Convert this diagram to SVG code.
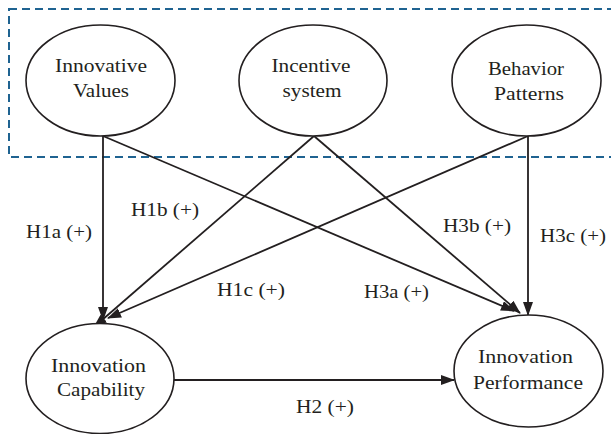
<svg xmlns="http://www.w3.org/2000/svg" width="611" height="434" viewBox="0 0 611 434">
<defs>
<style>
.node ellipse{fill:#fff;stroke:#231f20;stroke-width:1.6}
.t{font-family:"Times New Roman","Liberation Serif","Noto Serif","DejaVu Serif",serif;font-size:19.5px;fill:#231f20;text-anchor:middle}
.conn line{stroke:#231f20;stroke-width:1.8;fill:none}
</style>
<marker id="ah" markerWidth="14" markerHeight="10" refX="13" refY="5" orient="auto" markerUnits="userSpaceOnUse">
<path d="M0,0 L14,5 L0,10 Z" fill="#231f20"/>
</marker>
</defs>
<rect width="611" height="434" fill="#fff"/>
<rect id="group-box" x="9" y="9" width="620" height="148" fill="none" stroke="#1f6391" stroke-width="2" stroke-dasharray="8,5"/>
<g class="conn">
<line x1="103" y1="136" x2="103" y2="320" marker-end="url(#ah)"/>
<line x1="314" y1="136" x2="94" y2="327" marker-end="url(#ah)"/>
<line x1="528" y1="136" x2="108" y2="318" marker-end="url(#ah)"/>
<line x1="103" y1="136" x2="514" y2="311" marker-end="url(#ah)"/>
<line x1="314" y1="136" x2="520" y2="313" marker-end="url(#ah)"/>
<line x1="528" y1="136" x2="528" y2="315" marker-end="url(#ah)"/>
<line x1="174" y1="380" x2="454" y2="380" marker-end="url(#ah)"/>
</g>
<g id="innovative-values" class="node">
<ellipse cx="100.5" cy="80.5" rx="74.5" ry="55.5"/>
<text class="t" x="101" y="72" textLength="92" lengthAdjust="spacingAndGlyphs">Innovative</text>
<text class="t" x="101" y="97" textLength="56" lengthAdjust="spacingAndGlyphs">Values</text>
</g>
<g id="incentive-system" class="node">
<ellipse cx="313" cy="80.5" rx="74" ry="55.5"/>
<text class="t" x="311" y="72" textLength="79" lengthAdjust="spacingAndGlyphs">Incentive</text>
<text class="t" x="312" y="97" textLength="59" lengthAdjust="spacingAndGlyphs">system</text>
</g>
<g id="behavior-patterns" class="node">
<ellipse cx="526.5" cy="80.5" rx="74.5" ry="55.5"/>
<text class="t" x="526" y="75" textLength="76" lengthAdjust="spacingAndGlyphs">Behavior</text>
<text class="t" x="529" y="100" textLength="70" lengthAdjust="spacingAndGlyphs">Patterns</text>
</g>
<g id="innovation-capability" class="node">
<ellipse cx="100" cy="378.5" rx="74" ry="55"/>
<text class="t" x="98.5" y="372" textLength="95" lengthAdjust="spacingAndGlyphs">Innovation</text>
<text class="t" x="101" y="396" textLength="88" lengthAdjust="spacingAndGlyphs">Capability</text>
</g>
<g id="innovation-performance" class="node">
<ellipse cx="528.5" cy="371" rx="74.5" ry="56"/>
<text class="t" x="525.5" y="363" textLength="95" lengthAdjust="spacingAndGlyphs">Innovation</text>
<text class="t" x="528" y="389" textLength="110" lengthAdjust="spacingAndGlyphs">Performance</text>
</g>
<g id="labels">
<text class="t" x="59" y="238" textLength="66" lengthAdjust="spacingAndGlyphs">H1a (+)</text>
<text class="t" x="165" y="216" textLength="68" lengthAdjust="spacingAndGlyphs">H1b (+)</text>
<text class="t" x="251" y="296" textLength="68" lengthAdjust="spacingAndGlyphs">H1c (+)</text>
<text class="t" x="396.5" y="298" textLength="65" lengthAdjust="spacingAndGlyphs">H3a (+)</text>
<text class="t" x="477" y="232" textLength="68" lengthAdjust="spacingAndGlyphs">H3b (+)</text>
<text class="t" x="573" y="242" textLength="66" lengthAdjust="spacingAndGlyphs">H3c (+)</text>
<text class="t" x="325" y="413" textLength="58" lengthAdjust="spacingAndGlyphs">H2 (+)</text>
</g>
</svg>
